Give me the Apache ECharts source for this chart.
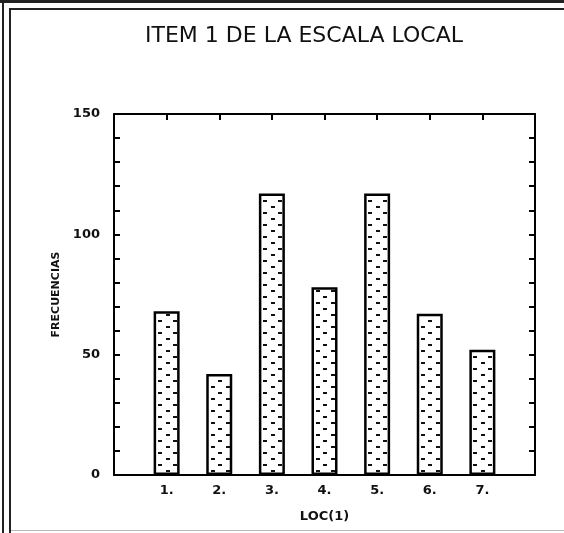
<!DOCTYPE html>
<html lang="es">
<head>
    <meta charset="UTF-8">
    <title>ITEM 1 DE LA ESCALA LOCAL</title>
    <script src="https://cdn.jsdelivr.net/npm/echarts@6/dist/echarts.min.js"></script>
    <style>
        html, body { margin: 0; padding: 0; background: #fff; }
        #chart { width: 564px; height: 533px; }
    </style>
</head>
<body>
<div id="chart"></div>
<script type="text/javascript">
    // datos
    var categorias = ['1.', '2.', '3.', '4.', '5.', '6.', '7.'];
    var frecuencias = [68, 42, 117, 78, 117, 67, 52];
    var yEtiquetas = [0, 50, 100, 150];

    // trama de puntos de las barras
    function trama() {
        var c = document.createElement('canvas');
        c.width = 15;
        c.height = 12;
        var ctx = c.getContext('2d');
        ctx.fillStyle = '#fff';
        ctx.fillRect(0, 0, 15, 12);
        ctx.fillStyle = '#111';
        ctx.fillRect(1, 2, 4, 2);
        ctx.fillRect(8, 8, 4, 2);
        return c;
    }

    var datos = [];
    for (var i = 0; i < frecuencias.length; i++) {
        datos.push([i + 1, frecuencias[i]]);
    }

    var fuente = 'DejaVu Sans';
    var lineaEje = {show: true, onZero: false, lineStyle: {color: '#000', width: 2}};
    var marca = {show: true, inside: true, length: 6, lineStyle: {color: '#000', width: 2}};

    var chart = echarts.init(document.getElementById('chart'));
    var option = {
        backgroundColor: '#fff',
        animation: false,
        title: {
            text: 'ITEM 1 DE LA ESCALA LOCAL',
            left: 140,
            top: 20,
            textStyle: {fontFamily: fuente, fontSize: 22, fontWeight: 'normal', color: '#111'}
        },
        grid: {left: 114, right: 29, top: 114, bottom: 58},
        xAxis: [{
            type: 'value', min: 0, max: 8, interval: 1, position: 'bottom',
            axisLine: lineaEje, axisTick: marca, splitLine: {show: false},
            axisLabel: {
                margin: 9, color: '#111', fontFamily: fuente, fontWeight: 'bold', fontSize: 13,
                formatter: function (v) { return categorias[v - 1] || ''; }
            },
            name: 'LOC(1)', nameLocation: 'middle', nameGap: 35,
            nameTextStyle: {fontFamily: fuente, fontWeight: 'bold', fontSize: 13, color: '#111'}
        }, {
            type: 'value', min: 0, max: 8, interval: 1, position: 'top',
            axisLine: lineaEje, axisTick: marca, splitLine: {show: false},
            axisLabel: {show: false}
        }],
        yAxis: [{
            type: 'value', min: 0, max: 150, interval: 10, position: 'left',
            axisLine: lineaEje, axisTick: marca, splitLine: {show: false},
            axisLabel: {
                margin: 14, color: '#111', fontFamily: fuente, fontWeight: 'bold', fontSize: 13,
                formatter: function (v) { return yEtiquetas.indexOf(v) >= 0 ? String(v) : ''; }
            },
            name: 'FRECUENCIAS', nameLocation: 'middle', nameGap: 52, nameRotate: 90,
            nameTextStyle: {fontFamily: fuente, fontWeight: 'bold', fontSize: 11, color: '#111'}
        }, {
            type: 'value', min: 0, max: 150, interval: 10, position: 'right',
            axisLine: lineaEje, axisTick: marca, splitLine: {show: false},
            axisLabel: {show: false}
        }],
        series: [{
            type: 'bar',
            xAxisIndex: 0,
            yAxisIndex: 0,
            barWidth: 26,
            data: datos,
            itemStyle: {
                color: {image: trama(), repeat: 'repeat'},
                borderColor: '#000',
                borderWidth: 2.5
            }
        }],
        graphic: [
            {type: 'rect', shape: {x: 0, y: 0, width: 564, height: 3}, style: {fill: '#222'}},
            {type: 'rect', shape: {x: 9, y: 8, width: 555, height: 2}, style: {fill: '#222'}},
            {type: 'rect', shape: {x: 2, y: 0, width: 2, height: 533}, style: {fill: '#222'}},
            {type: 'rect', shape: {x: 9, y: 8, width: 2, height: 525}, style: {fill: '#222'}},
            {type: 'rect', shape: {x: 11, y: 530, width: 553, height: 1}, style: {fill: '#bbb'}}
        ]
    };
    chart.setOption(option);
</script>
</body>
</html>
